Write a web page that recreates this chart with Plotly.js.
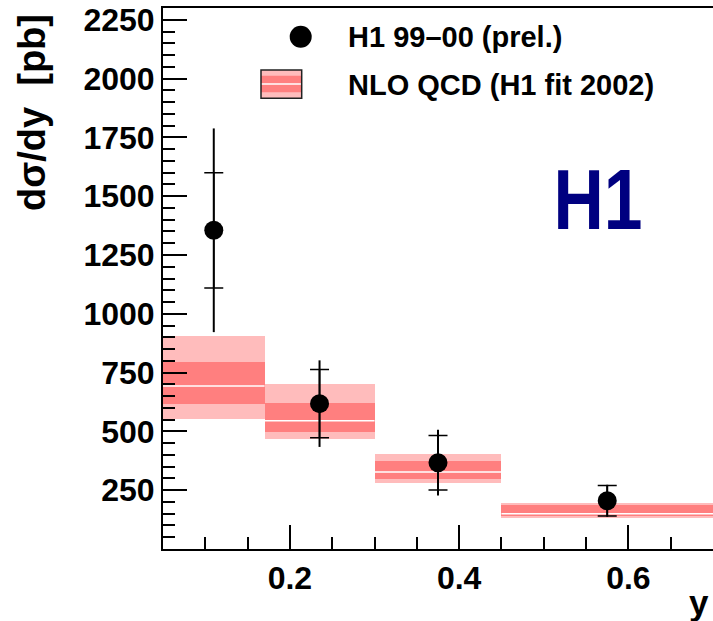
<!DOCTYPE html>
<html>
<head>
<meta charset="utf-8">
<script src="https://cdn.plot.ly/plotly-3.0.1.min.js"></script>
<style>
  html, body { margin: 0; padding: 0; background: #ffffff; }
  #chart { width: 713px; height: 621px; }
</style>
</head>
<body>
<div id="chart"></div>
<script>
// D* cross section differential in inelasticity y
const binLo = [0.05, 0.17, 0.30, 0.45];
const binHi = [0.17, 0.30, 0.45, 0.70];

// H1 99-00 preliminary data
const dataY = [0.11, 0.235, 0.375, 0.575];
const dataSigma = [1355, 618, 367, 205];
const statErr = [245, 145, 116, 65];
const totalErr = [433, 184, 140, 68];

// NLO QCD prediction (H1 fit 2002): central value, inner and outer bands
const nloCentral = [693, 545, 327, 150];
const nloInnerLo = [618, 499, 296, 139];
const nloInnerHi = [797, 620, 374, 188];
const nloOuterLo = [552, 467, 282, 133];
const nloOuterHi = [904, 703, 405, 195];

const yTickStep = 250;

const LIGHT = 'rgb(255,188,188)';
const DARK = 'rgb(255,127,127)';
const FONT = 'Liberation Sans, Arial, Helvetica, sans-serif';

const binCenter = binLo.map((lo, i) => (lo + binHi[i]) / 2);
const binWidth = binLo.map((lo, i) => binHi[i] - lo);

function band(lo, hi, color) {
  return {
    type: 'bar', x: binCenter, width: binWidth,
    base: lo, y: hi.map((h, i) => h - lo[i]),
    marker: { color: color, line: { width: 0 } },
    hoverinfo: 'skip', showlegend: false
  };
}

// central lines, one segment per bin
const cx = [], cy = [];
binLo.forEach((lo, i) => { cx.push(lo, binHi[i], null); cy.push(nloCentral[i], nloCentral[i], null); });

const traces = [
  band(nloOuterLo, nloOuterHi, LIGHT),
  band(nloInnerLo, nloInnerHi, DARK),
  { type: 'scatter', mode: 'lines', x: cx, y: cy,
    line: { color: 'white', width: 1.5 }, hoverinfo: 'skip', showlegend: false },
  { type: 'scatter', mode: 'markers', x: dataY, y: dataSigma,
    marker: { size: 1, color: 'rgba(0,0,0,0)' },
    error_y: { type: 'data', array: totalErr, visible: true, width: 0, thickness: 2, color: 'black' },
    showlegend: false },
  { type: 'scatter', mode: 'markers', x: dataY, y: dataSigma,
    marker: { size: 19, color: 'black' },
    error_y: { type: 'data', array: statErr, visible: true, width: 9.5, thickness: 1.5, color: 'black' },
    showlegend: false }
];

// pixel helpers for the legend and labels (plot area 163..713 x 8..549)
const L = 163, R = 713, T = 8, B = 549;
const px = x => (x - L) / (R - L);
const py = y => (B - y) / (B - T);

const shapes = [
  { type: 'circle', xref: 'paper', yref: 'paper', xsizemode: 'pixel', ysizemode: 'pixel',
    xanchor: px(300.7), yanchor: py(36.7), x0: -11, x1: 11, y0: -11, y1: 11,
    fillcolor: 'black', line: { width: 0 } },
  { type: 'rect', xref: 'paper', yref: 'paper', x0: px(261), x1: px(301.7), y0: py(98.3), y1: py(70),
    fillcolor: LIGHT, line: { width: 0 } },
  { type: 'rect', xref: 'paper', yref: 'paper', x0: px(261), x1: px(301.7), y0: py(92.3), y1: py(75.7),
    fillcolor: DARK, line: { width: 0 } },
  { type: 'line', xref: 'paper', yref: 'paper', x0: px(261), x1: px(301.7), y0: py(84), y1: py(84),
    line: { color: 'white', width: 1.5 } },
  { type: 'rect', xref: 'paper', yref: 'paper', x0: px(261), x1: px(301.7), y0: py(98.3), y1: py(70),
    fillcolor: 'rgba(0,0,0,0)', line: { color: '#222', width: 1.5 } }
];

const annotations = [
  { xref: 'paper', yref: 'paper', x: px(346), y: py(36.7), xanchor: 'left', yanchor: 'middle',
    text: 'H1 99\u201300 (prel.)', showarrow: false,
    font: { family: FONT, size: 29, weight: 700, color: 'black' } },
  { xref: 'paper', yref: 'paper', x: px(346), y: py(85), xanchor: 'left', yanchor: 'middle',
    text: 'NLO QCD (H1 fit 2002)', showarrow: false,
    font: { family: FONT, size: 29, weight: 700, color: 'black' } },
  { xref: 'paper', yref: 'paper', x: px(597.5), y: py(199), xanchor: 'center', yanchor: 'middle',
    text: 'H1', showarrow: false, name: 'logo',
    font: { family: FONT, size: 86, weight: 700, color: '#000080' } },
  { xref: 'paper', yref: 'paper', x: px(32), y: py(113), xanchor: 'center', yanchor: 'middle',
    text: 'd\u03c3/dy  [pb]', textangle: -90, showarrow: false,
    font: { family: FONT, size: 38, weight: 700, color: 'black' } },
  { xref: 'paper', yref: 'paper', x: px(711), y: py(602), xanchor: 'right', yanchor: 'middle',
    text: 'y', showarrow: false,
    font: { family: FONT, size: 35, weight: 700, color: 'black' } }
];

const layout = {
  width: 713, height: 621,
  margin: { l: L, r: 713 - R, t: T, b: 621 - B },
  paper_bgcolor: 'white', plot_bgcolor: 'white',
  barmode: 'overlay', bargap: 0,
  showlegend: false,
  xaxis: {
    range: [0.05, 0.7], tickmode: 'linear', tick0: 0, dtick: 0.2,
    ticks: 'inside', ticklen: 24, tickwidth: 2, tickcolor: 'black',
    minor: { ticks: 'inside', dtick: 0.05, tick0: 0, ticklen: 12, tickwidth: 2, tickcolor: 'black' },
    showline: true, linecolor: 'black', linewidth: 2, mirror: true,
    showgrid: false, zeroline: false,
    tickfont: { family: FONT, size: 32, weight: 700, color: 'black' }
  },
  yaxis: {
    range: [0, 2300], tickmode: 'linear', tick0: 0, dtick: yTickStep,
    labelalias: { '0': ' ' },
    ticks: 'inside', ticklen: 24, tickwidth: 2, tickcolor: 'black',
    minor: { ticks: 'inside', dtick: 50, tick0: 0, ticklen: 12, tickwidth: 2, tickcolor: 'black' },
    showline: true, linecolor: 'black', linewidth: 2, mirror: true,
    showgrid: false, zeroline: false,
    tickfont: { family: FONT, size: 32, weight: 700, color: 'black' }
  },
  shapes: shapes,
  annotations: annotations
};

Plotly.newPlot('chart', traces, layout, { staticPlot: true, displayModeBar: false }).then(gd => {
  // the H1 logo is set in a condensed face: squeeze its glyphs horizontally
  gd.querySelectorAll('.annotation-text').forEach(t => {
    if (t.textContent === 'H1') {
      t.setAttribute('textLength', '89');
      t.setAttribute('lengthAdjust', 'spacingAndGlyphs');
    }
  });
});
</script>
</body>
</html>
